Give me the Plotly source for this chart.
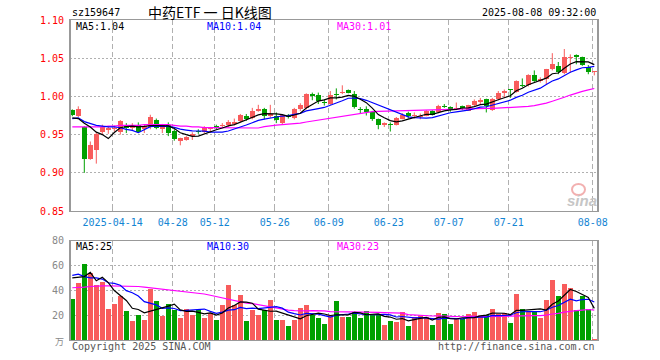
import plotly.graph_objects as go

# ---------------- data ----------------
dates = [
    "2025-04-02", "2025-04-03", "2025-04-07", "2025-04-08", "2025-04-09", "2025-04-10", "2025-04-11",
    "2025-04-14", "2025-04-15", "2025-04-16", "2025-04-17", "2025-04-18", "2025-04-21", "2025-04-22",
    "2025-04-23", "2025-04-24", "2025-04-25", "2025-04-28", "2025-04-29", "2025-04-30", "2025-05-06",
    "2025-05-07", "2025-05-08", "2025-05-09", "2025-05-12", "2025-05-13", "2025-05-14", "2025-05-15",
    "2025-05-16", "2025-05-19", "2025-05-20", "2025-05-21", "2025-05-22", "2025-05-23", "2025-05-26",
    "2025-05-27", "2025-05-28", "2025-05-29", "2025-05-30", "2025-06-03", "2025-06-04", "2025-06-05",
    "2025-06-06", "2025-06-09", "2025-06-10", "2025-06-11", "2025-06-12", "2025-06-13", "2025-06-16",
    "2025-06-17", "2025-06-18", "2025-06-19", "2025-06-20", "2025-06-23", "2025-06-24", "2025-06-25",
    "2025-06-26", "2025-06-27", "2025-06-30", "2025-07-01", "2025-07-02", "2025-07-03", "2025-07-04",
    "2025-07-07", "2025-07-08", "2025-07-09", "2025-07-10", "2025-07-11", "2025-07-14", "2025-07-15",
    "2025-07-16", "2025-07-17", "2025-07-18", "2025-07-21", "2025-07-22", "2025-07-23", "2025-07-24",
    "2025-07-25", "2025-07-28", "2025-07-29", "2025-07-30", "2025-07-31", "2025-08-01", "2025-08-04",
    "2025-08-05", "2025-08-06", "2025-08-07", "2025-08-08",
]

opens = [
    0.982, 0.974, 0.960, 0.918, 0.930, 0.954, 0.956, 0.957, 0.954, 0.963,
    0.958, 0.962, 0.957, 0.960, 0.969, 0.957, 0.962, 0.955, 0.942, 0.943,
    0.948, 0.954, 0.954, 0.957, 0.961, 0.961, 0.963, 0.964, 0.968, 0.975,
    0.972, 0.981, 0.983, 0.974, 0.975, 0.965, 0.975, 0.972, 0.983, 0.985,
    1.003, 1.002, 0.992, 0.990, 1.003, 1.0045, 1.008, 1.003, 0.983, 0.984,
    0.980, 0.970, 0.9625, 0.9645, 0.963, 0.971, 0.978, 0.974, 0.973, 0.975,
    0.981, 0.979, 0.988, 0.986, 0.983, 0.987, 0.9815, 0.9885, 0.993, 0.996,
    0.982, 0.996, 1.005, 1.009, 1.006, 1.0145, 1.0145, 1.028, 1.020, 1.023,
    1.0355, 1.040, 1.030, 1.050, 1.054, 1.051, 1.039, 1.032,
]
highs = [
    0.983, 0.987, 0.961, 0.941, 0.953, 0.963, 0.961, 0.962, 0.969, 0.965,
    0.965, 0.966, 0.963, 0.976, 0.971, 0.964, 0.966, 0.957, 0.946, 0.948,
    0.953, 0.957, 0.961, 0.960, 0.963, 0.965, 0.969, 0.971, 0.977, 0.977,
    0.985, 0.989, 0.985, 0.989, 0.979, 0.977, 0.977, 0.985, 0.991, 1.004,
    1.005, 1.005, 0.996, 1.007, 1.0105, 1.0145, 1.009, 1.007, 0.986, 0.987,
    0.981, 0.971, 0.966, 0.966, 0.973, 0.978, 0.980, 0.979, 0.9776, 0.982,
    0.982, 0.989, 0.990, 0.987, 0.992, 0.988, 0.989, 0.996, 0.998, 0.997,
    0.998, 1.007, 1.009, 1.009, 1.021, 1.0235, 1.029, 1.034, 1.025, 1.036,
    1.0566, 1.045, 1.062, 1.055, 1.055, 1.052, 1.041, 1.033,
]
lows = [
    0.974, 0.973, 0.900, 0.917, 0.912, 0.950, 0.951, 0.954, 0.950, 0.952,
    0.955, 0.952, 0.952, 0.957, 0.957, 0.952, 0.948, 0.942, 0.936, 0.942,
    0.943, 0.951, 0.952, 0.953, 0.957, 0.960, 0.960, 0.962, 0.966, 0.968,
    0.970, 0.980, 0.970, 0.972, 0.965, 0.963, 0.971, 0.970, 0.981, 0.983,
    0.995, 0.990, 0.988, 0.989, 0.996, 1.003, 1.004, 0.984, 0.978, 0.975,
    0.968, 0.957, 0.960, 0.954, 0.962, 0.970, 0.971, 0.971, 0.970, 0.974,
    0.975, 0.978, 0.985, 0.980, 0.982, 0.982, 0.981, 0.987, 0.990, 0.979,
    0.981, 0.995, 0.998, 0.998, 1.005, 1.012, 1.013, 1.019, 1.018, 1.016,
    1.034, 1.029, 1.029, 1.031, 1.042, 1.040, 1.029, 1.0275,
]
closes = [
    0.976, 0.984, 0.918, 0.937, 0.951, 0.960, 0.958, 0.958, 0.968, 0.959,
    0.962, 0.954, 0.961, 0.973, 0.959, 0.962, 0.952, 0.944, 0.945, 0.947,
    0.951, 0.953, 0.959, 0.9595, 0.959, 0.963, 0.967, 0.967, 0.976, 0.971,
    0.981, 0.984, 0.975, 0.977, 0.969, 0.976, 0.973, 0.983, 0.989, 1.0025,
    1.001, 0.994, 0.991, 1.002, 1.002, 1.006, 1.005, 0.986, 0.982, 0.980,
    0.970, 0.963, 0.9655, 0.963, 0.972, 0.976, 0.975, 0.976, 0.975, 0.981,
    0.976, 0.987, 0.986, 0.982, 0.984, 0.985, 0.9885, 0.994, 0.995, 0.987,
    0.997, 1.005, 1.007, 1.008, 1.020, 1.013, 1.028, 1.020, 1.023, 1.0355,
    1.042, 1.0325, 1.051, 1.051, 1.051, 1.041, 1.032, 1.033,
]
volumes = [
    33, 46, 61, 54, 44, 47, 25, 29, 35, 23,
    15.5, 20, 16, 41, 31, 19, 29, 24, 18, 25,
    20, 24, 18, 22, 16, 28.5, 44, 28, 36.5, 15.5,
    24, 20, 24, 32, 16, 16, 11.5, 16, 26, 28,
    20, 18, 12.5, 20, 31, 18.7, 18.7, 22.7, 18, 23.5,
    20, 21, 12.3, 15.5, 14.7, 22.7, 11.5, 18.7, 19.5, 18.7,
    12, 21.9, 21, 12.5, 17, 17, 21, 22.7, 19.5, 20,
    25, 21, 22, 14, 37, 25, 22.7, 22.7, 18, 32,
    48.5, 35.5, 45, 42, 24, 35, 25, 1,
]

# moving-average values before enough candles are on screen
price_ma5_head = [0.972, 0.971, 0.965, 0.960]
price_ma10_head = [0.971, 0.972, 0.967, 0.964, 0.962, 0.961, 0.960, 0.960, 0.959]
price_ma30_head = [0.960, 0.960, 0.960, 0.960, 0.960, 0.960, 0.961, 0.961, 0.962, 0.962,
                   0.962, 0.962, 0.963, 0.963, 0.963, 0.963, 0.963, 0.962, 0.961, 0.961,
                   0.960, 0.960, 0.959, 0.959, 0.959, 0.959, 0.959, 0.959, 0.959]
vol_ma5_head = [50, 50.4, 51, 54.4]
vol_ma10_head = [52, 53, 51, 50, 50, 49, 46, 45.5, 44]
vol_ma30_head = [42, 42, 42.5, 43, 43.5, 43.5, 43.5, 43.5, 43.5, 43.5,
                 43, 43, 42.5, 42, 41.5, 40.5, 40, 39.5, 39, 39,
                 38.5, 37.5, 37, 36, 35, 34, 33, 32, 31]

tick_dates = ["2025-04-14", "2025-04-28", "2025-05-12", "2025-05-26", "2025-06-09",
              "2025-06-23", "2025-07-07", "2025-07-21", "2025-08-08"]
tick_labels = ["2025-04-14", "04-28", "05-12", "05-26", "06-09", "06-23", "07-07", "07-21", "08-08"]
price_ticks = [0.85, 0.90, 0.95, 1.00, 1.05, 1.10]
vol_ticks = [20, 40, 60, 80]

code = "sz159647"
title = "中药ETF 一 日K线图"
stamp = "2025-08-08 09:32:00"


def moving_average(values, n, head):
    out = list(head)
    for i in range(len(head), len(values)):
        out.append(sum(values[i - n + 1:i + 1]) / n)
    return out


ma5 = moving_average(closes, 5, price_ma5_head)
ma10 = moving_average(closes, 10, price_ma10_head)
ma30 = moving_average(closes, 30, price_ma30_head)
vma5 = moving_average(volumes, 5, vol_ma5_head)
vma10 = moving_average(volumes, 10, vol_ma10_head)
vma30 = moving_average(volumes, 30, vol_ma30_head)

RED = "#f85c5c"
GREEN = "#00a000"
BLUE = "#0000ff"
MAG = "#ff00ff"
GRID = "#b0b0b0"
BORDER = "#999999"
MONO = "DejaVu Sans Mono"

idx = list(range(len(dates)))
up = [c >= o for o, c in zip(opens, closes)]
colors = [RED if u else GREEN for u in up]

# wicks
wx_r, wy_r, wx_g, wy_g = [], [], [], []
for i in idx:
    if up[i]:
        wx_r += [i, i, None]
        wy_r += [lows[i], highs[i], None]
    else:
        wx_g += [i, i, None]
        wy_g += [lows[i], highs[i], None]

body_base = [min(o, c) for o, c in zip(opens, closes)]
body_h = [max(abs(c - o), 0.0013) for o, c in zip(opens, closes)]

fig = go.Figure()
fig.add_trace(go.Scatter(x=wx_r, y=wy_r, mode="lines", line=dict(color=RED, width=1),
                         xaxis="x", yaxis="y", hoverinfo="skip"))
fig.add_trace(go.Scatter(x=wx_g, y=wy_g, mode="lines", line=dict(color=GREEN, width=1),
                         xaxis="x", yaxis="y", hoverinfo="skip"))
fig.add_trace(go.Bar(x=idx, y=body_h, base=body_base, marker=dict(color=colors, line=dict(width=0)),
                     width=0.84, xaxis="x", yaxis="y"))
for vals, col in ((ma30, MAG), (ma10, BLUE), (ma5, "black")):
    fig.add_trace(go.Scatter(x=idx, y=vals, mode="lines", line=dict(color=col, width=1.2),
                             xaxis="x", yaxis="y"))

fig.add_trace(go.Bar(x=idx, y=volumes, marker=dict(color=colors, line=dict(width=0)),
                     width=0.84, xaxis="x2", yaxis="y2"))
for vals, col in ((vma30, MAG), (vma10, BLUE), (vma5, "black")):
    fig.add_trace(go.Scatter(x=idx, y=vals, mode="lines", line=dict(color=col, width=1.2),
                             xaxis="x2", yaxis="y2"))

tickvals = [dates.index(d) - 0.27 for d in tick_dates]
xr = [-0.383, len(dates) - 0.383]

# pixel helpers for the plot area (70..598 x 20..340)
def px(x):
    return (x - 70) / 528.0


def py(y):
    return (340 - y) / 320.0


common_x = dict(range=xr, tickvals=tickvals, showgrid=True, gridcolor=GRID, griddash="5px,3px",
                gridwidth=1, zeroline=False, showline=True, linecolor=BORDER, linewidth=1, mirror=True,
                fixedrange=True, automargin=False)

fig.update_layout(
    width=660, height=360,
    margin=dict(l=70, r=62, t=20, b=20),
    paper_bgcolor="white", plot_bgcolor="white",
    showlegend=False, barmode="overlay", bargap=0,
    xaxis=dict(domain=[0, 1], anchor="y", ticktext=tick_labels, ticks="inside", ticklen=4,
               tickcolor=GRID, tickfont=dict(family=MONO, size=10, color="#1385d3"),
               ticklabelstandoff=2, **common_x),
    xaxis2=dict(domain=[0, 1], anchor="y2", showticklabels=False, ticks="", **common_x),
    yaxis=dict(domain=[py(211), 1], anchor="x", range=[0.85, 1.10], tickvals=price_ticks,
               tickformat=".2f", tickfont=dict(family=MONO, size=10, color="#ff0000"),
               showgrid=True, gridcolor=GRID, griddash="2px,2px", zeroline=False,
               showline=True, linecolor=BORDER, mirror=True, ticks="", ticklabelstandoff=3,
               automargin=False, fixedrange=True),
    yaxis2=dict(domain=[0, py(240.5)], anchor="x2", range=[0, 80], tickvals=vol_ticks,
                tickfont=dict(family=MONO, size=10, color="#888888"),
                showgrid=True, gridcolor=GRID, griddash="2px,2px", zeroline=False,
                showline=True, linecolor=BORDER, mirror=True, ticks="", ticklabelstandoff=3,
                automargin=False, fixedrange=True),
)

ann = []


def text(x, y, s, color="black", size=10, anchor="left", family=MONO):
    ann.append(dict(x=px(x), y=py(y), xref="paper", yref="paper", text=s, showarrow=False,
                    xanchor=anchor, yanchor="middle",
                    font=dict(family=family, size=size, color=color)))


text(70, 13, code)
text(210, 12, title, size=14, anchor="center", family="Noto Sans CJK SC")
text(598, 13, stamp, anchor="right")
text(74, 27, f"MA5:{ma5[-1]:.2f}")
text(205, 27, f"MA10:{ma10[-1]:.2f}", color=BLUE)
text(335, 27, f"MA30:{ma30[-1]:.2f}", color=MAG)
text(74, 246.5, f"MA5:{int(vma5[-1])}")
text(205, 246.5, f"MA10:{int(vma10[-1])}", color=BLUE)
text(335, 246.5, f"MA30:{int(vma30[-1])}", color=MAG)
text(66, 341, "万", color="#888888", anchor="right", family="Noto Sans CJK SC", size=9)
text(70, 346, "Copyright 2025 SINA.COM", color="#555555")
text(597, 346, "http://finance.sina.com.cn", color="#555555", anchor="right")
text(582, 200, "<b><i>sina</i></b>", color="#c6c6c6", size=15, anchor="center", family="Liberation Sans")
fig.update_layout(annotations=ann)

shapes = [
    dict(type="line", xref="paper", yref="paper", x0=0, x1=0, y0=py(211), y1=1,
         line=dict(color=BORDER, width=2)),
    dict(type="line", xref="paper", yref="paper", x0=1, x1=1, y0=py(211), y1=1,
         line=dict(color=BORDER, width=2)),
    dict(type="line", xref="paper", yref="paper", x0=0, x1=0, y0=0, y1=py(240.5),
         line=dict(color=BORDER, width=2)),
    dict(type="line", xref="paper", yref="paper", x0=1, x1=1, y0=0, y1=py(240.5),
         line=dict(color=BORDER, width=2)),
    dict(type="circle", xref="paper", yref="paper", x0=px(572), x1=px(585), y0=py(195), y1=py(184),
         line=dict(color="#f2b0b0", width=2)),
]
fig.update_layout(shapes=shapes)

fig.write_html("out.html", config={"displayModeBar": False, "staticPlot": True},
               post_script="document.body.style.margin='0';")
